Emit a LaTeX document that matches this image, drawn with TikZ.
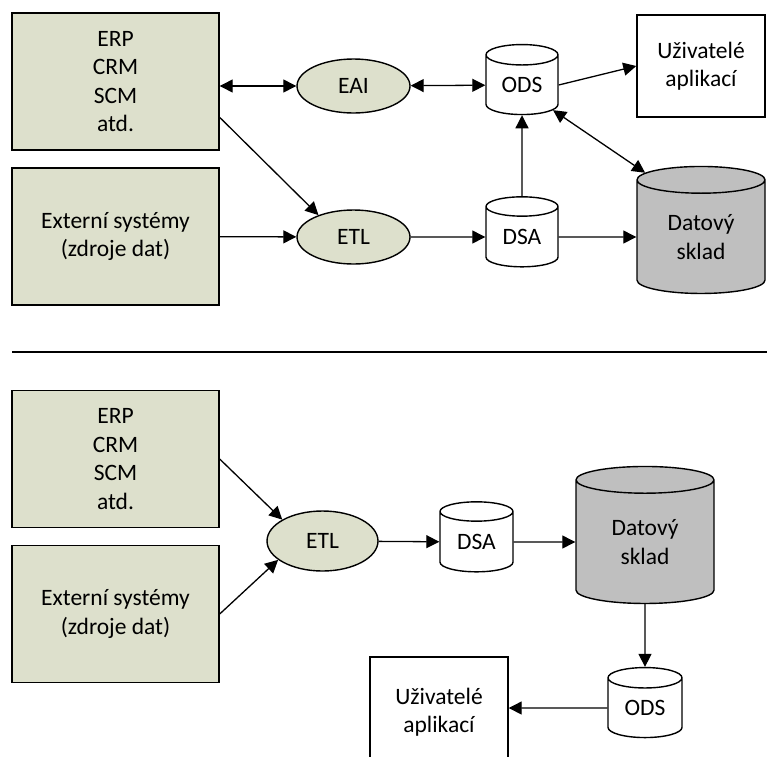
\documentclass[tikz,border=0pt]{standalone}
\usepackage{fontspec}
\setmainfont{Carlito}
\usepackage{tikz}
\usetikzlibrary{arrows.meta, shapes.geometric, positioning}

\definecolor{srcgreen}{RGB}{221,224,204}
\definecolor{whgrey}{RGB}{191,191,191}

\begin{document}
\begin{tikzpicture}[
        x=1pt, y=-1pt,
        ->,
        >={Triangle[length=13pt, width=13pt]},
        line width=1.3pt,
        every node/.style={font=\fontsize{23.5}{28.5}\selectfont, align=center, inner sep=0pt, line width=1.4pt},
        src/.style={rectangle, draw, fill=srcgreen, minimum width=207pt, minimum height=137pt},
        proc/.style={ellipse, draw, fill=srcgreen, minimum width=113pt, minimum height=54pt},
        store/.style={cylinder, draw, shape border rotate=90, aspect=0.5, fill=white, minimum width=72pt, minimum height=70pt},
        whouse/.style={store, aspect=0.4, fill=whgrey, minimum width=128pt, minimum height=127pt},
        users/.style={rectangle, draw, minimum width=128pt, minimum height=102pt}
    ]
    \useasboundingbox (0,0) rectangle (767,756);

    % EAI + ETL variant
    \node [src] (erp) at (115.5,81.5) {ERP\\CRM\\SCM\\atd.};
    \node [src] (ext) at (115.5,236.5) {Externí systémy\\(zdroje dat)};
    \node [proc] (eai) at (353.5,86) {EAI};
    \node [proc] (etl) at (353.5,237) {ETL};
    \node [store] (ods) at (522,85) {ODS};
    \node [store] (dsa) at (522,237) {DSA};
    \node [users] (uziv) at (701,66) {Uživatelé\\aplikací};
    \node [whouse] (dat) at (701,237) {Datový\\sklad};

    \draw [<->] (erp.east |- eai) -- (eai);
    \draw [<->] (eai) -- (ods);
    \draw (ods.east) -- (uziv.west);
    \draw [<->] (ods.-39) -- (dat.131);
    \draw (erp.-19) -- (etl.148);
    \draw (ext) -- (etl);
    \draw (etl) -- (dsa);
    \draw (dsa) -- (ods);
    \draw (dsa) -- (dat);

    \draw [-, line width=1.6pt] (12,352) -- (767,352);

    % ETL only variant
    \node [src] (erp2) at (115.5,459) {ERP\\CRM\\SCM\\atd.};
    \node [src] (ext2) at (115.5,614) {Externí systémy\\(zdroje dat)};
    \node [proc, minimum width=111pt, minimum height=60pt] (etl2) at (322.5,541) {ETL};
    \node [store, minimum width=73pt] (dsa2) at (476.5,542) {DSA};
    \node [whouse, minimum width=138pt, minimum height=137pt] (dat2) at (645,542) {Datový\\sklad};
    \node [store, minimum width=74pt] (ods2) at (645,708) {ODS};
    \node [users, minimum width=138pt, minimum height=110pt] (uziv2) at (439,712) {Uživatelé\\aplikací};

    \draw (erp2.east) -- (etl2.152);
    \draw (ext2.east) -- (etl2.203);
    \draw (etl2) -- (dsa2);
    \draw (dsa2) -- (dat2);
    \draw (dat2) -- (ods2);
    \draw (ods2) -- (ods2 -| uziv2.east);
\end{tikzpicture}
\end{document}
